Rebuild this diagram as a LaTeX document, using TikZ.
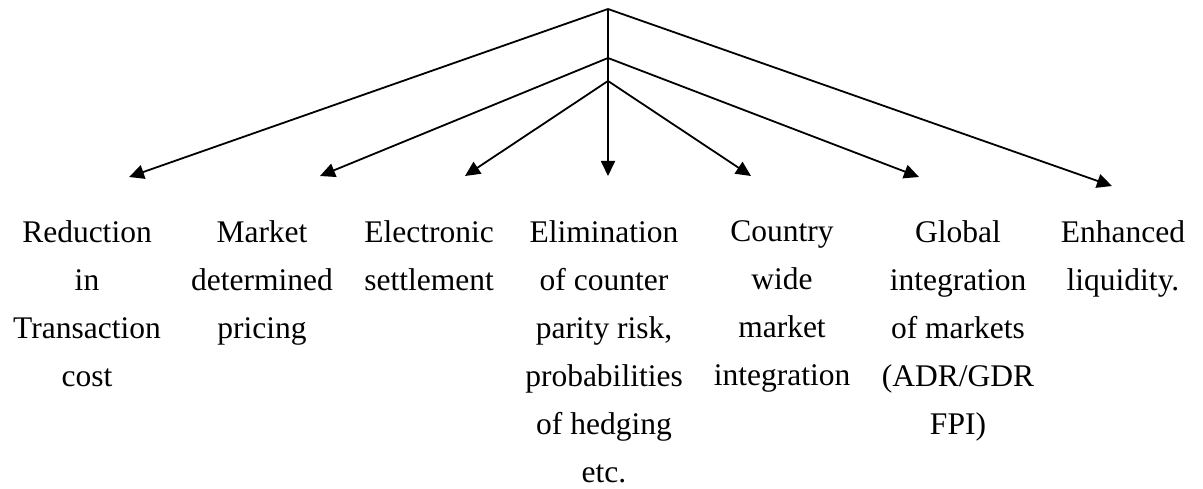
\documentclass[tikz,border=0pt]{standalone}
\usepackage{fontspec}
\setmainfont{Liberation Serif}
\usetikzlibrary{arrows.meta}
\begin{document}
\begin{tikzpicture}[x=1pt, y=-1pt,
    item/.style={anchor=north, inner sep=0pt, align=center,
        font=\fontsize{31.5}{48}\selectfont},
    branch/.style={line width=1.8pt, -{Triangle[length=15pt, width=14pt]}}]
\useasboundingbox (0,0) rectangle (1203,489);
\def\ytext{220}
% apex points on the stem
\coordinate (top) at (608,9);
\coordinate (mid) at (608,58);
\coordinate (low) at (608,81);
% arrow ends
\coordinate (e1) at (129,177);
\coordinate (e2) at (320,176);
\coordinate (e3) at (465,176);
\coordinate (e4) at (608,176);
\coordinate (e5) at (751,176);
\coordinate (e6) at (919,177);
\coordinate (e7) at (1112,186);
\node[item] (reduce) at (87,\ytext) {Reduction\\in\\Transaction\\cost};
\node[item] (market) at (262,\ytext) {Market\\determined\\pricing};
\node[item] (settle) at (429,\ytext) {Electronic\\settlement};
\node[item] (elim) at (604,\ytext) {Elimination\\of counter\\parity risk,\\probabilities\\of hedging\\etc.};
\node[item] (country) at (782,\ytext) {Country\\wide\\market\\integration};
\node[item] (global) at (958,\ytext) {Global\\integration\\of markets\\(ADR/GDR\\FPI)};
\node[item] (liquid) at (1123,\ytext) {Enhanced\\liquidity.};
\draw[branch] (top) -- (e1);
\draw[branch] (top) -- (e7);
\draw[branch] (mid) -- (e2);
\draw[branch] (mid) -- (e6);
\draw[branch] (low) -- (e3);
\draw[branch] (low) -- (e5);
\draw[branch] (top) -- (e4);
\end{tikzpicture}
\end{document}
